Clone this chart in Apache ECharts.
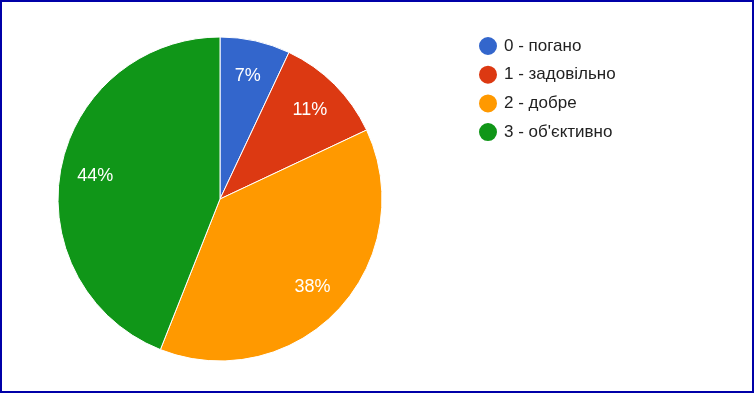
<!DOCTYPE html>
<html><head><meta charset="utf-8">
<script src="https://cdn.jsdelivr.net/npm/echarts@6/dist/echarts.min.js"></script>
<style>
html,body{margin:0;padding:0;background:#fff;}
#wrap{position:relative;width:754px;height:393px;}
#chart{position:absolute;left:0;top:0;width:754px;height:393px;}
#border{position:absolute;left:0;top:0;width:754px;height:393px;box-sizing:border-box;border:2px solid #0000a8;pointer-events:none;}
</style></head>
<body>
<div id="wrap"><div id="chart"></div><div id="border"></div></div>
<script>
const categories = ['0 - погано', '1 - задовільно', '2 - добре', "3 - об'єктивно"];
const values = [7, 11, 38, 44];
const colors = ['#3366cc', '#dc3912', '#ff9900', '#109618'];

const data = categories.map((c, i) => ({ name: c, value: values[i], itemStyle: { color: colors[i] } }));
const total = values.reduce((a, b) => a + b, 0);

const chart = echarts.init(document.getElementById('chart'), null, { renderer: 'canvas' });
chart.setOption({
  animation: false,
  legend: {
    orient: 'vertical',
    left: 472,
    top: 30,
    padding: 5,
    icon: 'circle',
    itemWidth: 20,
    itemHeight: 20,
    itemGap: 6.7,
    textStyle: { fontFamily: 'Liberation Sans, Arial', fontSize: 17, color: '#222222', lineHeight: 18, padding: [0, 0, 0, 1] },
    data: categories
  },
  series: [
    {
      type: 'pie',
      center: [220, 199],
      radius: [0, 162],
      startAngle: 90,
      clockwise: true,
      label: { show: false },
      labelLine: { show: false },
      emphasis: { disabled: true },
      itemStyle: { borderColor: '#ffffff', borderWidth: 1 },
      data: data
    },
    {
      type: 'pie',
      center: [220, 200],
      radius: [86, 162],
      startAngle: 90,
      clockwise: true,
      silent: true,
      legendHoverLink: false,
      emphasis: { disabled: true },
      itemStyle: { color: 'rgba(0,0,0,0)', borderWidth: 0 },
      label: {
        show: true,
        position: 'inside',
        color: '#ffffff',
        fontFamily: 'Liberation Sans, Arial',
        fontSize: 18,
        formatter: p => Math.round(p.value / total * 100) + '%'
      },
      labelLine: { show: false },
      data: categories.map((c, i) => ({ name: c + ' ', value: values[i] }))
    }
  ]
});
</script>
</body></html>
